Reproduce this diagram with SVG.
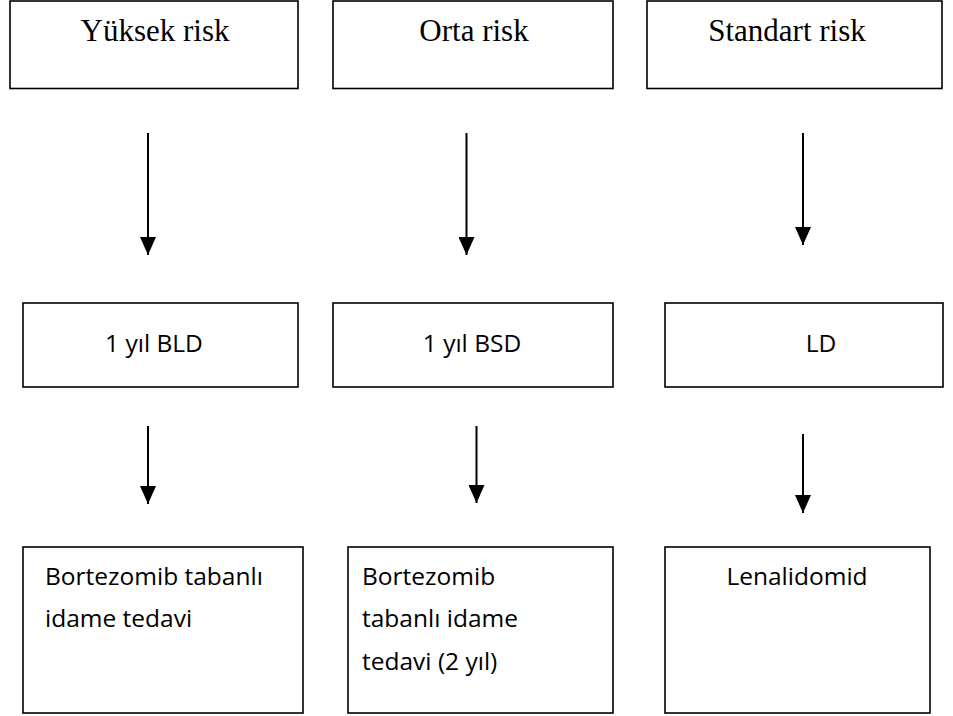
<svg xmlns="http://www.w3.org/2000/svg" width="953" height="716" viewBox="0 0 953 716">
  <defs>
    <marker id="ah" markerUnits="userSpaceOnUse" markerWidth="18" markerHeight="16" refX="18" refY="8" orient="auto" viewBox="0 0 18 16">
      <path d="M0,0 L18,8 L0,16 Z" fill="#000"/>
    </marker>
    <style>
      .box { fill: #fff; stroke: #000; stroke-width: 1.6; }
      .serif { font-family: "Liberation Serif", "Times New Roman", serif; font-size: 31px; fill: #000; text-anchor: middle; }
      .sans { font-family: "Open Sans", "Noto Sans", sans-serif; font-size: 24.5px; fill: #000; }
      .mid { text-anchor: middle; }
      .conn line { stroke: #000; stroke-width: 2; }
    </style>
  </defs>
  <rect width="953" height="716" fill="#fff"/>

  <g id="n-yuksek">
    <rect class="box" x="10" y="1" width="288" height="87.5"/>
    <text class="serif" x="155" y="41">Yüksek risk</text>
  </g>
  <g id="n-orta">
    <rect class="box" x="333" y="1" width="280" height="87.5"/>
    <text class="serif" x="474" y="41">Orta risk</text>
  </g>
  <g id="n-standart">
    <rect class="box" x="647" y="1" width="295" height="87.5"/>
    <text class="serif" x="787" y="41">Standart risk</text>
  </g>

  <g id="n-bld">
    <rect class="box" x="23" y="303" width="275" height="84"/>
    <text class="sans mid" x="154" y="352">1 yıl BLD</text>
  </g>
  <g id="n-bsd">
    <rect class="box" x="333" y="303" width="280" height="84"/>
    <text class="sans mid" x="472" y="352">1 yıl BSD</text>
  </g>
  <g id="n-ld">
    <rect class="box" x="665" y="303" width="278" height="84"/>
    <text class="sans mid" x="821" y="352">LD</text>
  </g>

  <g id="n-bort1">
    <rect class="box" x="23" y="547" width="280" height="166"/>
    <text class="sans" x="45" y="585">Bortezomib tabanlı</text>
    <text class="sans" x="45" y="627">idame tedavi</text>
  </g>
  <g id="n-bort2">
    <rect class="box" x="348" y="547" width="265" height="166"/>
    <text class="sans" x="362" y="585">Bortezomib</text>
    <text class="sans" x="362" y="627">tabanlı idame</text>
    <text class="sans" x="362" y="670">tedavi (2 yıl)</text>
  </g>
  <g id="n-lenal">
    <rect class="box" x="665" y="547" width="265" height="166"/>
    <text class="sans mid" x="797" y="585">Lenalidomid</text>
  </g>

  <g id="connectors" class="conn">
    <line x1="148" y1="133" x2="148" y2="255" marker-end="url(#ah)"/>
    <line x1="466.5" y1="133" x2="466.5" y2="255" marker-end="url(#ah)"/>
    <line x1="803" y1="133" x2="803" y2="245" marker-end="url(#ah)"/>
    <line x1="148" y1="426" x2="148" y2="504" marker-end="url(#ah)"/>
    <line x1="476.5" y1="426" x2="476.5" y2="503" marker-end="url(#ah)"/>
    <line x1="803" y1="434" x2="803" y2="513" marker-end="url(#ah)"/>
  </g>
</svg>
